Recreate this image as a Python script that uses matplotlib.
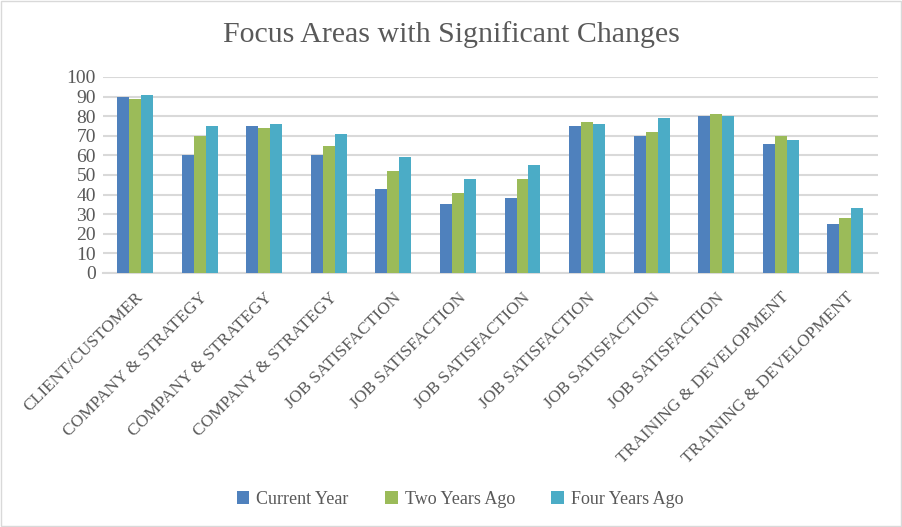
import numpy as np
import matplotlib.pyplot as plt

plt.rcParams['font.family'] = ['Liberation Serif', 'DejaVu Serif']

categories = ['CLIENT/CUSTOMER', 'COMPANY & STRATEGY', 'COMPANY & STRATEGY',
              'COMPANY & STRATEGY', 'JOB SATISFACTION', 'JOB SATISFACTION',
              'JOB SATISFACTION', 'JOB SATISFACTION', 'JOB SATISFACTION',
              'JOB SATISFACTION', 'TRAINING & DEVELOPMENT', 'TRAINING & DEVELOPMENT']
current_year = [90, 60, 75, 60, 43, 35, 38, 75, 70, 80, 66, 25]
two_years_ago = [89, 70, 74, 65, 52, 41, 48, 77, 72, 81, 70, 28]
four_years_ago = [91, 75, 76, 71, 59, 48, 55, 76, 79, 80, 68, 33]
series_names = ['Current Year', 'Two Years Ago', 'Four Years Ago']
colors = ['#4F81BD', '#9BBB59', '#4BACC6']
text_color = '#595959'

fig = plt.figure(figsize=(9.02, 5.27), dpi=100)
ax = fig.add_axes([0.114, 0.482, 0.859, 0.372])

x = np.arange(len(categories))
w = 0.185
for i, (vals, name, c) in enumerate(zip([current_year, two_years_ago, four_years_ago],
                                         series_names, colors)):
    ax.bar(x + (i - 1) * w, vals, width=w, color=c, label=name, zorder=3)

ax.set_xlim(-0.5, len(categories) - 0.5)
ax.set_ylim(0, 100)
ax.set_yticks(range(0, 101, 10))
ax.yaxis.grid(True, color='#D9D9D9', linewidth=1.5, zorder=0)
ax.tick_params(axis='y', length=0, labelsize=14, labelcolor=text_color, pad=5)
ax.tick_params(axis='x', length=0, labelsize=12.5, labelcolor=text_color, pad=12)
ax.set_xticks(x)
ax.set_xticklabels(categories, rotation=45, ha='right', rotation_mode='anchor')
for s in ['top', 'right', 'left']:
    ax.spines[s].set_visible(False)
ax.spines['bottom'].set_color('#D9D9D9')
ax.spines['bottom'].set_linewidth(1.5)

fig.suptitle('Focus Areas with Significant Changes', fontsize=21.5, color=text_color,
             y=0.96)
fig.legend(loc='lower center', bbox_to_anchor=(0.51, 0.005), ncol=3, frameon=False,
           fontsize=13, handlelength=0.7, handleheight=0.7, columnspacing=2.0,
           handletextpad=0.4, labelcolor=text_color)

border = plt.Rectangle((0.001, 0.001), 0.998, 0.997, transform=fig.transFigure,
                       fill=False, edgecolor='#D9D9D9', linewidth=1)
fig.patches.append(border)

fig.savefig('out.png', dpi=100)
